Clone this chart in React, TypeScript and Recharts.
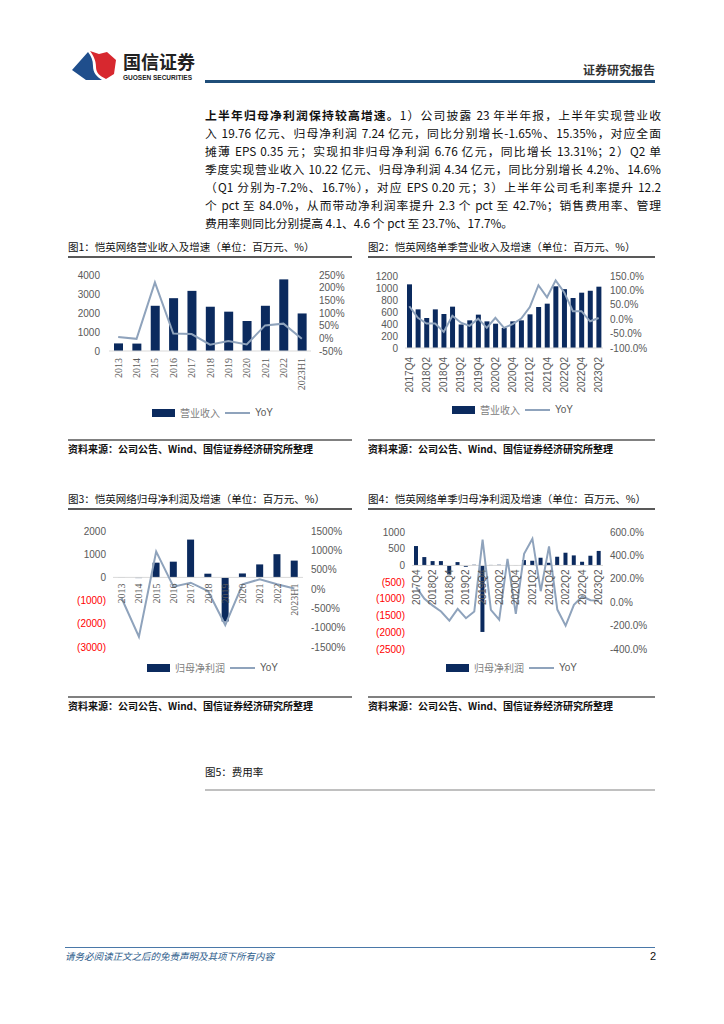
import React from 'react';
import { ComposedChart, Bar, Line, XAxis, YAxis, ReferenceLine } from 'recharts';

const NAVY = '#0B2A5E';
const LINE_C = '#8FA3BC';
const AXIS_C = '#595959';
const CJK = '"Noto Sans CJK SC", "Liberation Sans", sans-serif';
const SANS = '"Liberation Sans", "Noto Sans CJK SC", sans-serif';
const SERIF = '"Liberation Serif", "DejaVu Serif", serif';

// ---- Figure 1: annual revenue ----
const annualCats = ['2013', '2014', '2015', '2016', '2017', '2018', '2019', '2020', '2021', '2022', '2023H1'];
const annualRevenue = [400, 390, 2380, 2780, 3165, 2330, 2070, 1580, 2380, 3770, 1976];
const annualRevenueYoY = [5, -2, 221, 19, 17, -25, -11, -24, 51, 58, -1.65];
const revLeftTicks = [0, 1000, 2000, 3000, 4000];
const revRightTicks = [-50, 0, 50, 100, 150, 200, 250];

// ---- Figure 2: quarterly revenue ----
const quarterCats = [
  '2017Q4', '2018Q1', '2018Q2', '2018Q3', '2018Q4', '2019Q1', '2019Q2', '2019Q3', '2019Q4',
  '2020Q1', '2020Q2', '2020Q3', '2020Q4', '2021Q1', '2021Q2', '2021Q3', '2021Q4',
  '2022Q1', '2022Q2', '2022Q3', '2022Q4', '2023Q1', '2023Q2',
];
const quarterRevenue = [1061, 644, 500, 644, 567, 689, 392, 461, 556, 444, 405, 333, 444, 461, 561, 683, 739, 1028, 981, 833, 922, 954, 1022];
const quarterRevenueYoY = [45, 5, -15, -15, -44, 12, -12, -23, 2, -30, 5, -30, -17, 2, 42, 118, 76, 135, 93, 28, 28, -7.2, 4.2];
const qRevLeftTicks = [0, 200, 400, 600, 800, 1000, 1200];
const qRevRightTicks = [-100, -50, 0, 50, 100, 150];

// ---- Figure 3: annual net profit ----
const annualProfit = [-10, -30, 635, 678, 1630, 160, -1900, 170, 560, 1000, 724];
const annualProfitYoY = [-240, -1235, 966, 60, 163, -52, -933, 122, 251, 122, 15.35];
const profLeftTicks = [-3000, -2000, -1000, 0, 1000, 2000];
const profRightTicks = [-1500, -1000, -500, 0, 500, 1000, 1500];

// ---- Figure 4: quarterly net profit ----
const quarterProfit = [580, 250, 130, 130, -270, 100, -40, 20, -1990, 15, 20, 5, 10, 160, 140, 230, 80, 260, 380, 300, 110, 290, 434];
const quarterProfitYoY = [129, 29, -29, -80, -157, -57, -137, -80, 534, -66, -149, 371, -100, 414, 543, 94, 477, -63, -200, -23, 49, 16.7, 14.6];
const qProfLeftTicks = [-2500, -2000, -1500, -1000, -500, 0, 500, 1000];
const qProfRightTicks = [-400, -200, 0, 200, 400, 600];

const paragraphLines = [
  '入 19.76 亿元、归母净利润 7.24 亿元，同比分别增长-1.65%、15.35%，对应全面',
  '摊薄 EPS 0.35 元；实现扣非归母净利润 6.76 亿元，同比增长 13.31%；2）Q2 单',
  '季度实现营业收入 10.22 亿元、归母净利润 4.34 亿元，同比分别增长 4.2%、14.6%',
  '（Q1 分别为-7.2%、16.7%），对应 EPS 0.20 元；3）上半年公司毛利率提升 12.2',
  '个 pct 至 84.0%，从而带动净利润率提升 2.3 个 pct 至 42.7%；销售费用率、管理',
];
const SOURCE = '资料来源：公司公告、Wind、国信证券经济研究所整理';

function RotTick(props: any) {
  const { x, y, payload, lift = 0, gap = 6, family = SANS } = props;
  return (
    <text
      transform={`translate(${x},${y - lift + gap}) rotate(-90)`}
      textAnchor="end"
      dominantBaseline="central"
      fontSize={10}
      fill={AXIS_C}
      fontFamily={family}
    >
      {payload.value}
    </text>
  );
}

function LeftTick(props: any) {
  const { x, y, payload } = props;
  const v = payload.value as number;
  const neg = v < 0;
  return (
    <text x={x} y={y} textAnchor="end" dominantBaseline="central" fontSize={10} fill={neg ? '#FF0000' : AXIS_C} fontFamily={SANS}>
      {neg ? `(${Math.abs(v)})` : `${v}`}
    </text>
  );
}

function DualChart(p: any) {
  const data = p.cats.map((c: string, i: number) => ({ cat: c, v: p.bars[i], yoy: p.yoy[i] }));
  const plotH = p.height - p.mTop - p.mBottom - p.xH;
  const lift = p.zeroAxis ? (plotH * (0 - p.lDomain[0])) / (p.lDomain[1] - p.lDomain[0]) : 0;
  return (
    <div style={{ position: 'absolute', left: p.left, top: p.top }}>
      <ComposedChart
        width={p.width}
        height={p.height}
        data={data}
        margin={{ top: p.mTop, right: 0, bottom: p.mBottom, left: 0 }}
      >
        <XAxis
          dataKey="cat"
          height={p.xH}
          interval={p.interval}
          tickSize={0}
          tickMargin={0}
          axisLine={p.zeroAxis ? false : { stroke: '#D9D9D9' }}
          tickLine={false}
          tick={(t: any) => <RotTick {...t} lift={lift} gap={p.gap} family={p.xFamily} />}
        />
        <YAxis
          yAxisId="l"
          orientation="left"
          width={p.lW}
          domain={p.lDomain}
          ticks={p.lTicks}
          interval={0}
          axisLine={false}
          tickLine={false}
          tickSize={0}
          tickMargin={p.lMargin}
          tick={LeftTick}
          allowDataOverflow
        />
        <YAxis
          yAxisId="r"
          orientation="right"
          width={p.rW}
          domain={p.rDomain}
          ticks={p.rTicks}
          interval={0}
          axisLine={false}
          tickLine={false}
          tickSize={0}
          tickMargin={p.rMargin}
          tick={{ fontSize: 10, fill: AXIS_C, fontFamily: SANS }}
          tickFormatter={p.rFmt}
          allowDataOverflow
        />
        {p.zeroAxis && <ReferenceLine yAxisId="l" y={0} stroke="#D9D9D9" />}
        <Bar yAxisId="l" dataKey="v" fill={NAVY} barSize={p.barSize} isAnimationActive={false} />
        <Line yAxisId="r" dataKey="yoy" type="linear" stroke={LINE_C} strokeWidth={2} dot={false} isAnimationActive={false} />
      </ComposedChart>
    </div>
  );
}

function LegendRow({ left, top, label }: { left: number; top: number; label: string }) {
  return (
    <div style={{ position: 'absolute', left, top, display: 'flex', alignItems: 'center', fontSize: 10, color: '#808080', fontFamily: CJK, whiteSpace: 'nowrap', lineHeight: '12px' }}>
      <span style={{ display: 'inline-block', width: 23, height: 8, background: NAVY, marginRight: 5 }} />
      <span>{label}</span>
      <span style={{ display: 'inline-block', width: 25, height: 2, background: LINE_C, margin: '0 5px 0 5px' }} />
      <span style={{ color: AXIS_C, fontFamily: SANS }}>YoY</span>
    </div>
  );
}

function FigTitle({ left, top, width, text }: { left: number; top: number; width: number; text: string }) {
  return (
    <>
      <div style={{ position: 'absolute', left, top, fontSize: 10.5, color: '#111', fontFamily: CJK, whiteSpace: 'nowrap', lineHeight: '14px' }}>{text}</div>
      <div style={{ position: 'absolute', left, top: top + 16, width, height: 1.5, background: '#595959' }} />
    </>
  );
}

function Source({ left, top, width }: { left: number; top: number; width: number }) {
  return (
    <>
      <div style={{ position: 'absolute', left, top, width, height: 1.5, background: '#808080' }} />
      <div style={{ position: 'absolute', left, top: top + 3, fontSize: 10, color: '#111', fontFamily: CJK, fontWeight: 600, whiteSpace: 'nowrap', lineHeight: '14px' }}>{SOURCE}</div>
    </>
  );
}

export default function App() {
  const pctInt = (v: number) => `${v}%`;
  const pct1 = (v: number) => `${v.toFixed(1)}%`;
  const lineStyle: React.CSSProperties = { textAlign: 'justify', textAlignLast: 'justify', whiteSpace: 'nowrap', height: 18 };
  return (
    <div style={{ position: 'absolute', left: 0, top: 0, width: 724, height: 1024, background: '#fff', fontFamily: CJK, overflow: 'hidden' }}>
      {/* header logo */}
      <svg style={{ position: 'absolute', left: 66, top: 46 }} width={60} height={40}>
        <path d="M6,24 L22,6 C25,10 27,14 27,20 C27,27 31,31 36,34 L20,34 Z" fill="#1F4E8C" />
        <path d="M24,5 L33,8 L41,6 L50,14 L48,28 L40,33 C34,30 30,27 30,21 C30,14 27,9 24,5 Z" fill="#D7282F" />
      </svg>
      <div style={{ position: 'absolute', left: 123, top: 50, fontSize: 18, fontWeight: 700, color: '#222', fontFamily: CJK, lineHeight: '22px', letterSpacing: 0 }}>国信证券</div>
      <div style={{ position: 'absolute', left: 123, top: 74, fontSize: 6.5, fontWeight: 700, color: '#222', fontFamily: SANS, lineHeight: '8px' }}>GUOSEN SECURITIES</div>
      <div style={{ position: 'absolute', left: 583, top: 62, fontSize: 12, fontWeight: 700, color: '#333', fontFamily: CJK, lineHeight: '16px' }}>证券研究报告</div>
      <div style={{ position: 'absolute', left: 205, top: 80, width: 450, height: 2.5, background: '#1F4E79' }} />

      {/* paragraph */}
      <div style={{ position: 'absolute', left: 205, top: 106, width: 456, fontSize: 11.8, lineHeight: '18px', color: '#111', fontFamily: CJK }}>
        <div style={lineStyle}>
          <b>上半年归母净利润保持较高增速。</b>1）公司披露 23 年半年报，上半年实现营业收
        </div>
        {paragraphLines.map((l) => (
          <div key={l} style={lineStyle}>{l}</div>
        ))}
        <div style={{ whiteSpace: 'nowrap' }}>费用率则同比分别提高 4.1、4.6 个 pct 至 23.7%、17.7%。</div>
      </div>

      {/* figure 1 */}
      <FigTitle left={68} top={240} width={284} text="图1：恺英网络营业收入及增速（单位：百万元、%）" />
      <DualChart
        left={60} top={265} width={300} height={136} mTop={10} mBottom={0} xH={50}
        cats={annualCats} bars={annualRevenue} yoy={annualRevenueYoY}
        lW={49} rW={49} lDomain={[0, 4000]} lTicks={revLeftTicks} rDomain={[-50, 250]} rTicks={revRightTicks}
        lMargin={9} rMargin={8} rFmt={pctInt} barSize={9} interval={0} gap={7} xFamily={SERIF}
      />
      <LegendRow left={152} top={407} label="营业收入" />
      <Source left={68} top={439} width={284} />

      {/* figure 2 */}
      <FigTitle left={368} top={240} width={287} text="图2：恺英网络单季营业收入及增速（单位：百万元、%）" />
      <DualChart
        left={360} top={265} width={293} height={133} mTop={11} mBottom={0} xH={50}
        cats={quarterCats} bars={quarterRevenue} yoy={quarterRevenueYoY}
        lW={45} rW={50} lDomain={[0, 1200]} lTicks={qRevLeftTicks} rDomain={[-100, 150]} rTicks={qRevRightTicks}
        lMargin={7} rMargin={7} rFmt={pct1} barSize={5} interval={1} gap={9} xFamily={SANS}
      />
      <LegendRow left={452} top={404} label="营业收入" />
      <Source left={368} top={439} width={287} />

      {/* figure 3 */}
      <FigTitle left={68} top={492} width={284} text="图3：恺英网络归母净利润及增速（单位：百万元、%）" />
      <DualChart
        left={60} top={520} width={293} height={137} mTop={11} mBottom={0} xH={10}
        cats={annualCats} bars={annualProfit} yoy={annualProfitYoY}
        lW={53} rW={50} lDomain={[-3000, 2000]} lTicks={profLeftTicks} rDomain={[-1500, 1500]} rTicks={profRightTicks}
        lMargin={7} rMargin={8} rFmt={pctInt} barSize={7} interval={0} gap={6} xFamily={SERIF} zeroAxis
      />
      <LegendRow left={147} top={662} label="归母净利润" />
      <Source left={68} top={696} width={284} />

      {/* figure 4 */}
      <FigTitle left={368} top={492} width={287} text="图4：恺英网络单季归母净利润及增速（单位：百万元、%）" />
      <DualChart
        left={360} top={520} width={293} height={139} mTop={12} mBottom={0} xH={10}
        cats={quarterCats} bars={quarterProfit} yoy={quarterProfitYoY}
        lW={52} rW={50} lDomain={[-2500, 1000]} lTicks={qProfLeftTicks} rDomain={[-400, 600]} rTicks={qProfRightTicks}
        lMargin={7} rMargin={7} rFmt={pct1} barSize={4} interval={1} gap={4} xFamily={SANS} zeroAxis
      />
      <LegendRow left={446} top={662} label="归母净利润" />
      <Source left={368} top={696} width={287} />

      {/* figure 5 */}
      <div style={{ position: 'absolute', left: 205, top: 765, fontSize: 10.5, color: '#111', fontFamily: CJK, lineHeight: '14px' }}>图5：费用率</div>
      <div style={{ position: 'absolute', left: 205, top: 789, width: 450, height: 2, background: '#C0C0C0' }} />

      {/* footer */}
      <div style={{ position: 'absolute', left: 65, top: 947, width: 590, height: 1, background: '#4A78A8' }} />
      <div style={{ position: 'absolute', left: 65, top: 949, fontSize: 9.5, fontStyle: 'italic', color: '#2E5D8C', fontFamily: CJK, lineHeight: '14px' }}>请务必阅读正文之后的免责声明及其项下所有内容</div>
      <div style={{ position: 'absolute', left: 650, top: 949, fontSize: 11, color: '#111', fontFamily: SANS, lineHeight: '14px' }}>2</div>
    </div>
  );
}
